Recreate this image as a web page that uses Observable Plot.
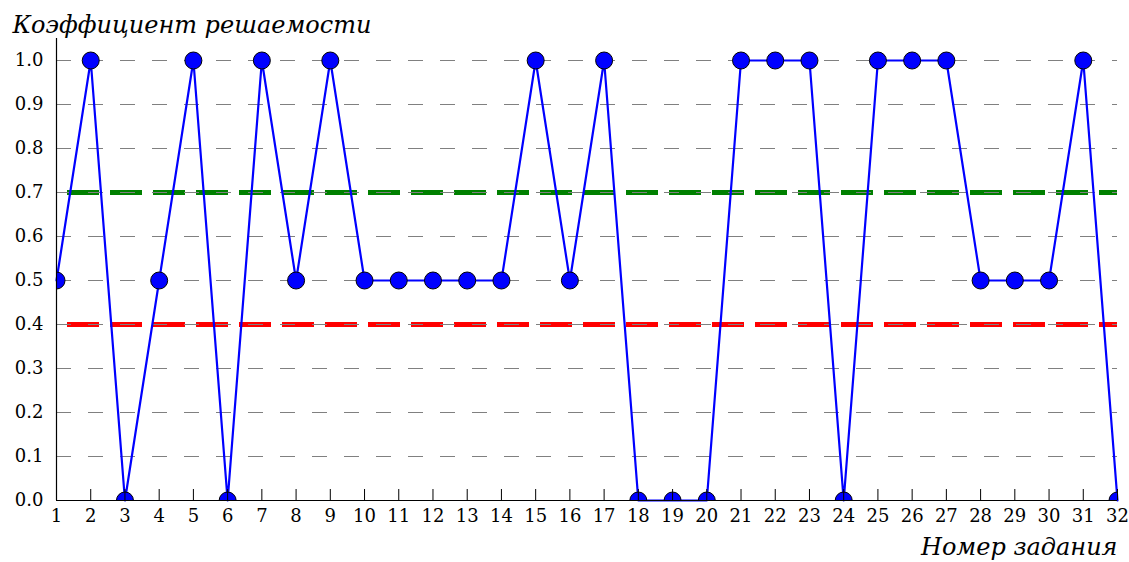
<!DOCTYPE html>
<html>
<head>
<meta charset="utf-8">
<script src="https://cdn.jsdelivr.net/npm/d3@7"></script>
<script src="https://cdn.jsdelivr.net/npm/@observablehq/plot@0.6"></script>
<style>
  html, body { margin: 0; padding: 0; background: #fff; }
</style>
</head>
<body>
<div id="chart"></div>
<script>
const tasks = d3.range(1, 33);
const values = [0.5, 1, 0, 0.5, 1, 0, 1, 0.5, 1, 0.5, 0.5, 0.5, 0.5, 0.5, 1, 0.5,
                1, 0, 0, 0, 1, 1, 1, 0, 1, 1, 1, 0.5, 0.5, 0.5, 1, 0];
const yTicks = [0, 0.1, 0.2, 0.3, 0.4, 0.5, 0.6, 0.7, 0.8, 0.9, 1.0];
const gridTicks = [0.1, 0.2, 0.3, 0.4, 0.5, 0.6, 0.7, 0.8, 0.9, 1.0];
const upperThreshold = [0.7];
const lowerThreshold = [0.4];
const yTitle = "Коэффициент решаемости";
const xTitle = "Номер задания";

const data = tasks.map((t, i) => ({task: t, value: values[i]}));
const font = "DejaVu Serif";

const chart = Plot.plot({
  width: 1129,
  height: 562,
  marginLeft: 56,
  marginRight: 12,
  marginTop: 38,
  marginBottom: 62,
  style: {fontFamily: font, fontSize: "18px", color: "#000", background: "#fff"},
  x: {domain: [1, 32], type: "linear"},
  y: {domain: [0, 1.05]},
  marks: [
    Plot.ruleY(upperThreshold, {stroke: "#008000", strokeWidth: 5, strokeDasharray: "32,11", strokeDashoffset: 32}),
    Plot.ruleY(lowerThreshold, {stroke: "#ff0000", strokeWidth: 5, strokeDasharray: "32,11", strokeDashoffset: 32}),
    Plot.gridY(gridTicks, {stroke: "#808080", strokeOpacity: 1, strokeWidth: 1.2, strokeDasharray: "15,17"}),
    Plot.axisX(tasks, {tickSize: 0, tickPadding: 9, tickFormat: d => String(d), fontSize: 18, label: null}),
    Plot.axisY(yTicks, {tickSize: 0, tickPadding: 13, tickFormat: d => d.toFixed(1), fontSize: 18, label: null}),
    Plot.line(data, {x: "task", y: "value", stroke: "#0000ff", strokeWidth: 2.2}),
    Plot.dot(data, {x: "task", y: "value", r: 8.5, fill: "#0000ff", stroke: "#000", strokeWidth: 1, clip: true}),
    Plot.axisX(tasks, {tickSize: 11, dy: -11, text: null, label: null, stroke: "#000"}),
    Plot.ruleX([1], {stroke: "#000", strokeWidth: 1.2}),
    Plot.ruleY([0], {stroke: "#000", strokeWidth: 1.2}),
    Plot.text([yTitle], {frameAnchor: "top-left", dx: -44, dy: -6, textAnchor: "start", lineAnchor: "bottom", fontSize: 24, fontStyle: "italic", fill: "#000"}),
    Plot.text([xTitle], {frameAnchor: "bottom-right", dx: 0, dy: 47, textAnchor: "end", lineAnchor: "middle", fontSize: 24, fontStyle: "italic", fill: "#000"})
  ]
});
document.getElementById("chart").appendChild(chart);
</script>
</body>
</html>
